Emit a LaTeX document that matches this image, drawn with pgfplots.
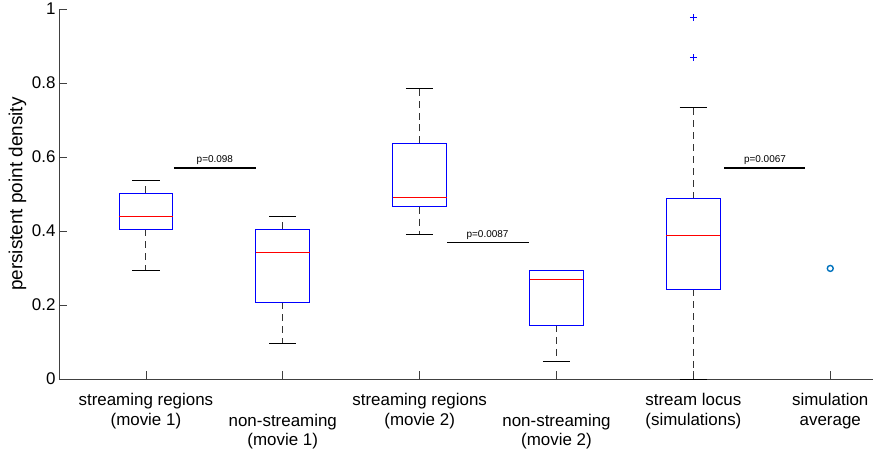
\documentclass[border=0pt]{standalone}
\usepackage{fontspec}
\setmainfont{Liberation Sans}
\usepackage{pgfplots}
\pgfplotsset{compat=1.18}
\definecolor{mblue}{rgb}{0,0.447,0.741}
\definecolor{axgray}{gray}{0.25}
\begin{document}
\begin{tikzpicture}
\begin{axis}[
  scale only axis, width=814bp, height=370bp,
  xmin=0.365, xmax=6.31, ymin=0, ymax=1,
  axis lines*=left,
  axis line style={axgray, line width=0.6pt},
  tick style={axgray, line width=0.6pt},
  major tick length=8bp, tick align=inside,
  clip=false,
  xtick={1,2,3,4,5,6},
  ytick={0,0.2,0.4,0.6,0.8,1},
  /pgf/number format/assume math mode=true,
  tick label style={font=\fontsize{17}{19.5}\selectfont},
  xticklabel style={align=center, yshift=-11bp},
  xticklabels={{streaming regions\\(movie 1)},
    {\strut\\non-streaming\\(movie 1)},
    {streaming regions\\(movie 2)},
    {\strut\\non-streaming\\(movie 2)},
    {stream locus\\(simulations)},
    {simulation\\average}},
  ylabel={persistent point density},
  ylabel style={font=\fontsize{19}{22}\selectfont, at={(axis description cs:-0.051,0.5)}, anchor=center},
  wsk/.style={black!80, line width=0.8pt, dash pattern=on 7pt off 5pt},
  cap/.style={black, line width=0.8pt},
  bx/.style={blue, line width=0.8pt},
  med/.style={red, line width=0.8pt},
]
% box 1: lw 0.293, q1 0.405, med 0.441, q3 0.503, uw 0.538
\addplot[wsk] coordinates {(1,0.405) (1,0.293)};
\addplot[wsk] coordinates {(1,0.503) (1,0.538)};
\addplot[cap] coordinates {(0.9,0.293) (1.1,0.293)};
\addplot[cap] coordinates {(0.9,0.538) (1.1,0.538)};
\addplot[bx] coordinates {(0.803,0.405) (1.197,0.405) (1.197,0.503) (0.803,0.503)} -- cycle;
\addplot[med] coordinates {(0.803,0.441) (1.197,0.441)};
% box 2: lw 0.096, q1 0.207, med 0.342, q3 0.405, uw 0.441
\addplot[wsk] coordinates {(2,0.207) (2,0.096)};
\addplot[wsk] coordinates {(2,0.405) (2,0.441)};
\addplot[cap] coordinates {(1.9,0.096) (2.1,0.096)};
\addplot[cap] coordinates {(1.9,0.441) (2.1,0.441)};
\addplot[bx] coordinates {(1.803,0.207) (2.197,0.207) (2.197,0.405) (1.803,0.405)} -- cycle;
\addplot[med] coordinates {(1.803,0.342) (2.197,0.342)};
% box 3: lw 0.392, q1 0.466, med 0.491, q3 0.637, uw 0.785
\addplot[wsk] coordinates {(3,0.466) (3,0.392)};
\addplot[wsk] coordinates {(3,0.637) (3,0.785)};
\addplot[cap] coordinates {(2.9,0.392) (3.1,0.392)};
\addplot[cap] coordinates {(2.9,0.785) (3.1,0.785)};
\addplot[bx] coordinates {(2.803,0.466) (3.197,0.466) (3.197,0.637) (2.803,0.637)} -- cycle;
\addplot[med] coordinates {(2.803,0.491) (3.197,0.491)};
% box 4: lw 0.048, q1 0.146, med 0.268, q3 0.294, uw 0.294
\addplot[wsk] coordinates {(4,0.146) (4,0.048)};
\addplot[cap] coordinates {(3.9,0.048) (4.1,0.048)};
\addplot[cap] coordinates {(3.9,0.294) (4.1,0.294)};
\addplot[bx] coordinates {(3.803,0.146) (4.197,0.146) (4.197,0.294) (3.803,0.294)} -- cycle;
\addplot[med] coordinates {(3.803,0.268) (4.197,0.268)};
% box 5: lw 0, q1 0.243, med 0.388, q3 0.488, uw 0.734, outliers 0.869, 0.978
\addplot[wsk] coordinates {(5,0.243) (5,0)};
\addplot[wsk] coordinates {(5,0.488) (5,0.734)};
\addplot[cap] coordinates {(4.9,0) (5.1,0)};
\addplot[cap] coordinates {(4.9,0.734) (5.1,0.734)};
\addplot[bx] coordinates {(4.803,0.243) (5.197,0.243) (5.197,0.488) (4.803,0.488)} -- cycle;
\addplot[med] coordinates {(4.803,0.388) (5.197,0.388)};
\addplot[only marks, blue, mark=+, mark size=3.5pt, line width=1.4pt] coordinates {(5,0.978) (5,0.869)};
% simulation average
\addplot[only marks, mark=o, mark size=3pt, mblue, line width=1.4pt] coordinates {(6,0.299)};
% significance bars
\addplot[black, line width=1.8pt] coordinates {(1.204,0.570) (1.803,0.570)};
\addplot[black, line width=1.8pt] coordinates {(3.202,0.369) (3.798,0.369)};
\addplot[black, line width=1.8pt] coordinates {(5.226,0.570) (5.818,0.570)};
\node[font=\fontsize{10}{12}\selectfont, above, inner sep=3pt] at (axis cs:1.504,0.570) {p=0.098};
\node[font=\fontsize{10}{12}\selectfont, above, inner sep=3pt] at (axis cs:3.496,0.369) {p=0.0087};
\node[font=\fontsize{10}{12}\selectfont, above, inner sep=3pt] at (axis cs:5.523,0.570) {p=0.0067};
\end{axis}
\path (current axis.south west) ++(-59bp,0) (current axis.north west) ++(0,6bp);
\end{tikzpicture}
\end{document}
